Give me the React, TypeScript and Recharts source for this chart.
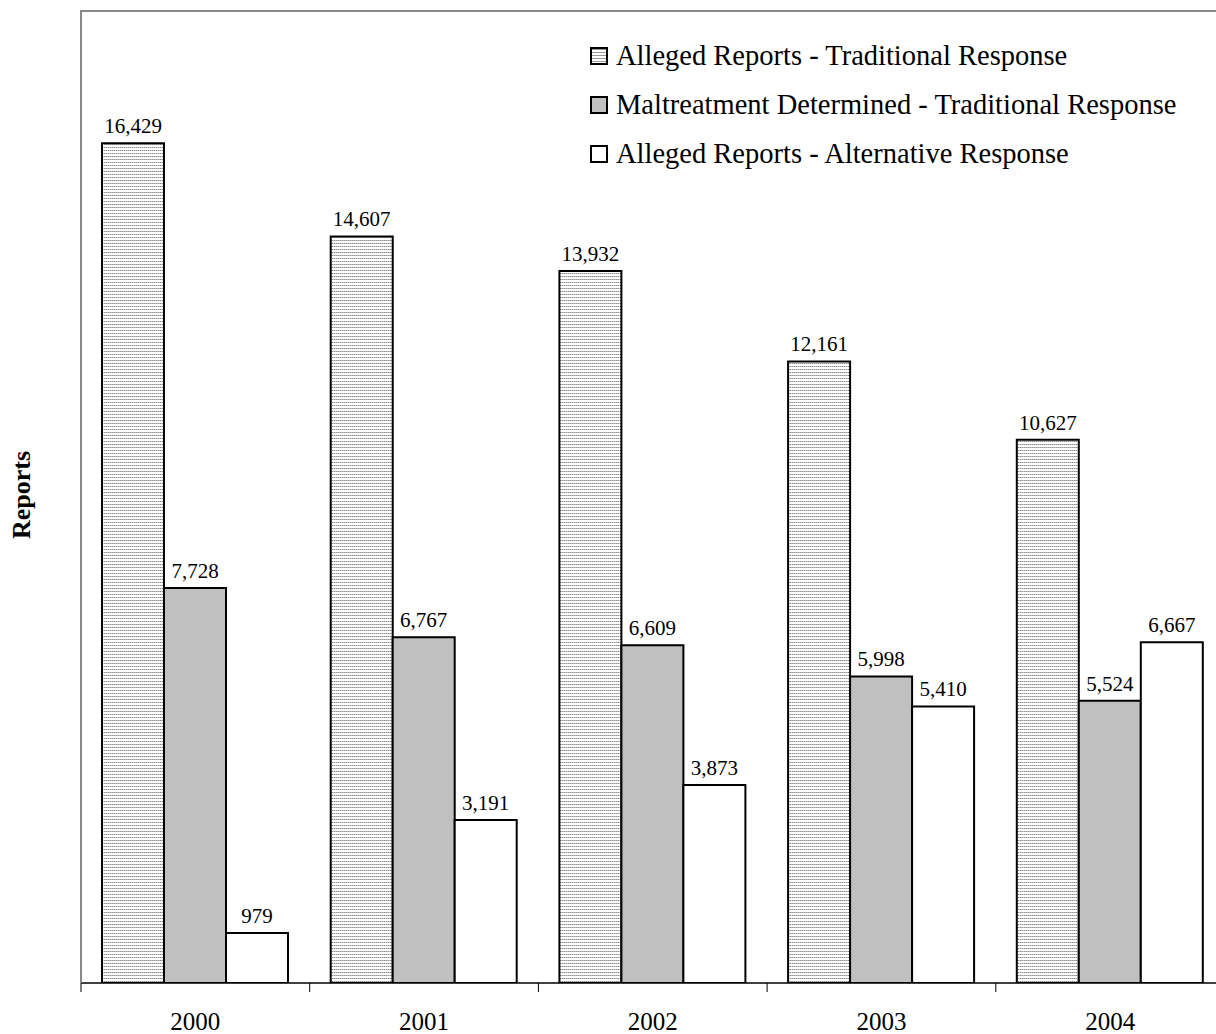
import React from 'react'
import { BarChart, Bar, XAxis, YAxis, LabelList } from 'recharts'

// values
const years = ['2000', '2001', '2002', '2003', '2004']
const allegedTraditional = [16429, 14607, 13932, 12161, 10627]
const maltreatmentTraditional = [7728, 6767, 6609, 5998, 5524]
const allegedAlternative = [979, 3191, 3873, 5410, 6667]

const seriesNames = [
  'Alleged Reports - Traditional Response',
  'Maltreatment Determined - Traditional Response',
  'Alleged Reports - Alternative Response',
]

const data = years.map((year, i) => ({
  year,
  allegedTraditional: allegedTraditional[i],
  maltreatmentTraditional: maltreatmentTraditional[i],
  allegedAlternative: allegedAlternative[i],
}))

const FONT = '"Liberation Serif", "Times New Roman", serif'

const legendSwatches = [
  { background: 'repeating-linear-gradient(to bottom, #9a9a9a 0px, #9a9a9a 1px, #ffffff 1px, #ffffff 3px)' },
  { background: '#c0c0c0' },
  { background: '#ffffff' },
]

const fmt = (v: any) => Number(v).toLocaleString('en-US')

function YearTick(props: any) {
  const { x, y, payload } = props
  const half = payload && payload.offset != null ? payload.offset : 114.35
  return (
    <g>
      <line x1={x - half} y1={y} x2={x - half} y2={y + 9} stroke="#000" strokeWidth={1} />
      <text x={x} y={y + 47} textAnchor="middle" fontSize={25} fontFamily={FONT} fill="#000">
        {payload.value}
      </text>
    </g>
  )
}

function LegendBox() {
  return (
    <div
      style={{
        position: 'absolute',
        left: 590,
        top: 31,
        fontFamily: FONT,
        fontSize: 28.5,
        color: '#000',
        pointerEvents: 'none',
      }}
    >
      {seriesNames.map((name, i) => (
        <div key={name} style={{ display: 'flex', alignItems: 'center', height: 49, whiteSpace: 'nowrap' }}>
          <span
            style={{
              display: 'inline-block',
              width: 14,
              height: 14,
              border: '2px solid #000',
              marginRight: 8,
              ...legendSwatches[i],
            }}
          />
          {name}
        </div>
      ))}
    </div>
  )
}

export default function App() {
  const labelStyle = { fontSize: 21, fontFamily: FONT, fill: '#000' }
  return (
    <div style={{ position: 'absolute', left: 0, top: 0, width: 1216, height: 1034, overflow: 'hidden', background: '#fff' }}>
      <BarChart
        width={1240}
        height={1034}
        data={data}
        margin={{ top: 63, right: 15.5, bottom: 11, left: 0 }}
        barCategoryGap={21}
        barGap={0}
      >
        <defs>
          <pattern id="hlines" width="2" height="3" patternUnits="userSpaceOnUse">
            <rect width="2" height="3" fill="#ffffff" />
            <rect x="0" y="0" width="1" height="1" fill="#8a8a8a" />
            <rect x="1" y="0" width="1" height="1" fill="#c8c8c8" />
          </pattern>
        </defs>
        <XAxis
          dataKey="year"
          height={40}
          axisLine={{ stroke: '#000', strokeWidth: 1.5 }}
          tickLine={false}
          tickSize={0}
          tickMargin={0}
          tick={<YearTick />}
          interval={0}
        />
        <YAxis
          width={81}
          domain={[0, 18000]}
          ticks={[0, 18000]}
          allowDataOverflow
          axisLine={false}
          tickLine={false}
          tick={false}
          label={() => (
            <text
              x={21}
              y={495}
              transform="rotate(-90, 21, 495)"
              textAnchor="middle"
              dominantBaseline="central"
              fontSize={26}
              fontWeight="bold"
              fontFamily={FONT}
              fill="#000"
            >
              Reports
            </text>
          )}
        />
        <Bar dataKey="allegedTraditional" name={seriesNames[0]} fill="url(#hlines)" stroke="#000" strokeWidth={2} isAnimationActive={false}>
          <LabelList dataKey="allegedTraditional" position="top" offset={10} formatter={fmt} style={labelStyle} />
        </Bar>
        <Bar dataKey="maltreatmentTraditional" name={seriesNames[1]} fill="#c0c0c0" stroke="#000" strokeWidth={2} isAnimationActive={false}>
          <LabelList dataKey="maltreatmentTraditional" position="top" offset={10} formatter={fmt} style={labelStyle} />
        </Bar>
        <Bar dataKey="allegedAlternative" name={seriesNames[2]} fill="#ffffff" stroke="#000" strokeWidth={2} isAnimationActive={false}>
          <LabelList dataKey="allegedAlternative" position="top" offset={10} formatter={fmt} style={labelStyle} />
        </Bar>
      </BarChart>
      <LegendBox />
      <div
        style={{
          position: 'absolute',
          left: 80,
          top: 10,
          width: 1200,
          height: 973,
          borderTop: '2px solid #888',
          borderLeft: '2px solid #888',
          boxSizing: 'border-box',
          pointerEvents: 'none',
        }}
      />
    </div>
  )
}
